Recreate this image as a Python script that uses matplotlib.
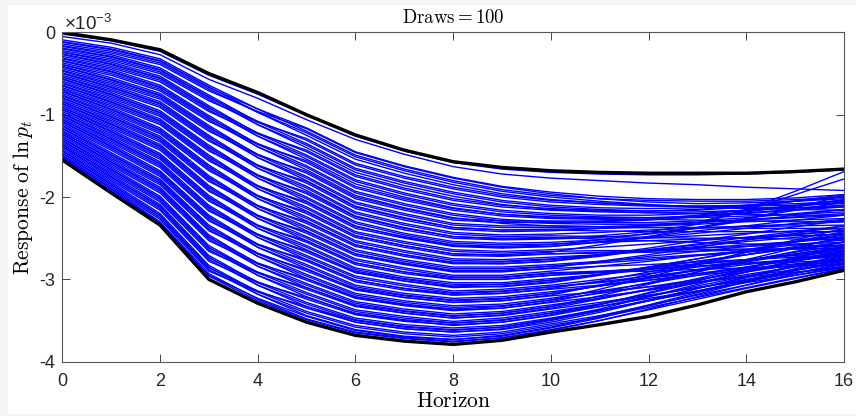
import matplotlib
matplotlib.use("Agg")
import matplotlib.pyplot as plt
from matplotlib.patches import Rectangle

# responses in units of 1e-3
horizon = list(range(17))

upper = [0.00, -0.09, -0.21, -0.50, -0.73, -1.00, -1.245, -1.43, -1.57, -1.64, -1.68,
         -1.70, -1.71, -1.71, -1.71, -1.69, -1.66]
lower = [-1.55, -1.95, -2.34, -3.00, -3.29, -3.52, -3.68, -3.75, -3.79, -3.74, -3.64,
         -3.55, -3.45, -3.31, -3.15, -3.03, -2.89]

draws = [
    [-0.02, -0.10, -0.23, -0.52, -0.75, -1.01, -1.26, -1.44, -1.58, -1.66, -1.70, -1.72, -1.73, -1.73, -1.72, -1.70, -1.67],
    [-0.05, -0.13, -0.27, -0.57, -0.80, -1.06, -1.30, -1.48, -1.63, -1.72, -1.77, -1.80, -1.83, -1.85, -1.88, -1.90, -1.92],
    [-0.09, -0.18, -0.32, -0.64, -0.93, -1.20, -1.49, -1.66, -1.80, -1.91, -1.98, -2.02, -2.04, -2.05, -2.05, -2.03, -2.00],
    [-0.11, -0.20, -0.34, -0.66, -0.97, -1.25, -1.54, -1.71, -1.85, -1.96, -2.03, -2.07, -2.10, -2.11, -2.11, -2.10, -2.08],
    [-0.12, -0.21, -0.35, -0.67, -0.93, -1.16, -1.45, -1.62, -1.76, -1.87, -1.94, -1.99, -2.02, -2.03, -2.03, -2.01, -1.97],
    [-0.14, -0.23, -0.37, -0.69, -0.97, -1.22, -1.51, -1.68, -1.82, -1.93, -2.00, -2.05, -2.09, -2.12, -2.14, -2.15, -2.16],
    [-0.16, -0.25, -0.39, -0.71, -0.96, -1.17, -1.46, -1.63, -1.77, -1.88, -1.96, -2.02, -2.06, -2.08, -2.07, -2.05, -2.02],
    [-0.17, -0.27, -0.43, -0.76, -1.09, -1.35, -1.65, -1.81, -1.94, -2.04, -2.10, -2.13, -2.14, -2.13, -2.10, -2.05, -2.00],
    [-0.19, -0.29, -0.45, -0.78, -1.12, -1.40, -1.70, -1.86, -1.99, -2.09, -2.15, -2.17, -2.19, -2.20, -2.21, -2.22, -2.22],
    [-0.20, -0.30, -0.46, -0.79, -1.08, -1.31, -1.61, -1.77, -1.90, -2.00, -2.06, -2.09, -2.11, -2.11, -2.10, -2.08, -2.05],
    [-0.22, -0.32, -0.48, -0.81, -1.12, -1.37, -1.67, -1.83, -1.96, -2.06, -2.12, -2.15, -2.17, -2.16, -2.12, -2.05, -1.97],
    [-0.24, -0.34, -0.50, -0.83, -1.09, -1.29, -1.59, -1.75, -1.88, -1.98, -2.04, -2.07, -2.10, -2.12, -2.13, -2.13, -2.12],
    [-0.24, -0.36, -0.53, -0.89, -1.23, -1.49, -1.79, -1.95, -2.08, -2.16, -2.20, -2.22, -2.22, -2.20, -2.16, -2.11, -2.06],
    [-0.26, -0.38, -0.55, -0.91, -1.26, -1.54, -1.84, -2.00, -2.13, -2.21, -2.25, -2.26, -2.27, -2.28, -2.29, -2.30, -2.30],
    [-0.27, -0.39, -0.56, -0.92, -1.22, -1.45, -1.75, -1.91, -2.04, -2.12, -2.16, -2.18, -2.19, -2.18, -2.16, -2.13, -2.10],
    [-0.29, -0.41, -0.58, -0.94, -1.26, -1.51, -1.81, -1.97, -2.10, -2.18, -2.22, -2.24, -2.25, -2.25, -2.23, -2.21, -2.18],
    [-0.31, -0.43, -0.60, -0.96, -1.23, -1.43, -1.73, -1.89, -2.02, -2.10, -2.14, -2.16, -2.17, -2.15, -2.10, -2.05, -1.99],
    [-0.32, -0.45, -0.64, -1.01, -1.36, -1.62, -1.93, -2.08, -2.20, -2.27, -2.30, -2.31, -2.31, -2.29, -2.25, -2.20, -2.15],
    [-0.34, -0.47, -0.66, -1.03, -1.39, -1.67, -1.98, -2.13, -2.25, -2.32, -2.35, -2.36, -2.37, -2.37, -2.38, -2.38, -2.38],
    [-0.35, -0.48, -0.67, -1.04, -1.35, -1.58, -1.89, -2.04, -2.16, -2.23, -2.26, -2.27, -2.27, -2.24, -2.18, -2.11, -2.04],
    [-0.37, -0.50, -0.69, -1.06, -1.39, -1.64, -1.95, -2.10, -2.22, -2.29, -2.32, -2.33, -2.33, -2.31, -2.28, -2.25, -2.22],
    [-0.39, -0.52, -0.71, -1.08, -1.36, -1.56, -1.87, -2.02, -2.14, -2.21, -2.24, -2.25, -2.25, -2.23, -2.19, -2.15, -2.10],
    [-0.39, -0.55, -0.74, -1.13, -1.49, -1.75, -2.06, -2.20, -2.32, -2.35, -2.35, -2.36, -2.35, -2.31, -2.15, -1.93, -1.69],
    [-0.41, -0.57, -0.76, -1.15, -1.52, -1.80, -2.11, -2.25, -2.37, -2.40, -2.40, -2.41, -2.42, -2.42, -2.42, -2.42, -2.42],
    [-0.42, -0.58, -0.77, -1.16, -1.48, -1.71, -2.02, -2.16, -2.28, -2.31, -2.31, -2.30, -2.28, -2.24, -2.20, -2.16, -2.12],
    [-0.44, -0.60, -0.79, -1.18, -1.52, -1.77, -2.08, -2.22, -2.34, -2.37, -2.37, -2.36, -2.35, -2.33, -2.30, -2.28, -2.26],
    [-0.46, -0.62, -0.81, -1.20, -1.49, -1.69, -2.00, -2.14, -2.26, -2.29, -2.29, -2.29, -2.27, -2.22, -2.16, -2.10, -2.03],
    [-0.47, -0.64, -0.84, -1.25, -1.62, -1.87, -2.18, -2.32, -2.43, -2.46, -2.45, -2.43, -2.40, -2.38, -2.35, -2.33, -2.30],
    [-0.49, -0.66, -0.86, -1.27, -1.65, -1.92, -2.23, -2.37, -2.48, -2.51, -2.50, -2.47, -2.42, -2.33, -2.16, -1.97, -1.78],
    [-0.50, -0.67, -0.87, -1.28, -1.61, -1.83, -2.14, -2.28, -2.39, -2.42, -2.41, -2.38, -2.34, -2.31, -2.27, -2.24, -2.20],
    [-0.52, -0.69, -0.89, -1.30, -1.65, -1.89, -2.20, -2.34, -2.45, -2.48, -2.47, -2.48, -2.49, -2.50, -2.50, -2.51, -2.52],
    [-0.54, -0.71, -0.91, -1.32, -1.62, -1.81, -2.12, -2.26, -2.37, -2.40, -2.39, -2.38, -2.37, -2.37, -2.36, -2.35, -2.34],
    [-0.54, -0.73, -0.95, -1.37, -1.74, -2.00, -2.30, -2.44, -2.54, -2.56, -2.55, -2.52, -2.50, -2.47, -2.44, -2.41, -2.38],
    [-0.56, -0.75, -0.97, -1.39, -1.77, -2.05, -2.35, -2.49, -2.59, -2.61, -2.60, -2.54, -2.48, -2.41, -2.35, -2.28, -2.22],
    [-0.57, -0.76, -0.98, -1.40, -1.73, -1.96, -2.26, -2.40, -2.50, -2.52, -2.51, -2.49, -2.45, -2.38, -2.27, -2.13, -1.98],
    [-0.59, -0.78, -1.00, -1.42, -1.77, -2.02, -2.32, -2.46, -2.56, -2.58, -2.57, -2.55, -2.53, -2.51, -2.49, -2.47, -2.45],
    [-0.61, -0.80, -1.02, -1.44, -1.74, -1.94, -2.24, -2.38, -2.48, -2.50, -2.49, -2.51, -2.53, -2.55, -2.57, -2.58, -2.60],
    [-0.62, -0.82, -1.05, -1.49, -1.87, -2.12, -2.42, -2.54, -2.64, -2.66, -2.64, -2.61, -2.57, -2.53, -2.49, -2.45, -2.41],
    [-0.64, -0.84, -1.07, -1.51, -1.90, -2.17, -2.47, -2.59, -2.69, -2.71, -2.69, -2.67, -2.65, -2.62, -2.60, -2.57, -2.55],
    [-0.65, -0.85, -1.08, -1.52, -1.86, -2.08, -2.38, -2.50, -2.60, -2.62, -2.60, -2.55, -2.49, -2.44, -2.38, -2.32, -2.27],
    [-0.67, -0.87, -1.10, -1.54, -1.90, -2.14, -2.44, -2.56, -2.66, -2.68, -2.66, -2.65, -2.65, -2.64, -2.63, -2.63, -2.62],
    [-0.69, -0.89, -1.12, -1.56, -1.87, -2.06, -2.36, -2.48, -2.58, -2.60, -2.58, -2.52, -2.44, -2.37, -2.29, -2.22, -2.15],
    [-0.69, -0.91, -1.16, -1.61, -1.99, -2.24, -2.53, -2.65, -2.75, -2.76, -2.73, -2.70, -2.66, -2.62, -2.58, -2.54, -2.50],
    [-0.71, -0.93, -1.18, -1.63, -2.02, -2.29, -2.58, -2.70, -2.80, -2.81, -2.78, -2.72, -2.64, -2.57, -2.49, -2.42, -2.35],
    [-0.72, -0.94, -1.19, -1.64, -1.98, -2.20, -2.49, -2.61, -2.71, -2.72, -2.69, -2.68, -2.67, -2.66, -2.64, -2.63, -2.62],
    [-0.74, -0.96, -1.21, -1.66, -2.02, -2.26, -2.55, -2.67, -2.77, -2.78, -2.75, -2.70, -2.65, -2.60, -2.54, -2.49, -2.44],
    [-0.76, -0.98, -1.23, -1.68, -1.99, -2.18, -2.47, -2.59, -2.69, -2.70, -2.67, -2.58, -2.48, -2.37, -2.26, -2.16, -2.06],
    [-0.77, -1.00, -1.26, -1.74, -2.11, -2.36, -2.64, -2.76, -2.85, -2.85, -2.82, -2.78, -2.74, -2.70, -2.66, -2.62, -2.58],
    [-0.79, -1.02, -1.28, -1.76, -2.14, -2.41, -2.69, -2.81, -2.90, -2.90, -2.87, -2.84, -2.82, -2.79, -2.76, -2.73, -2.70],
    [-0.80, -1.03, -1.29, -1.77, -2.10, -2.32, -2.60, -2.72, -2.81, -2.81, -2.78, -2.70, -2.62, -2.53, -2.45, -2.36, -2.28],
    [-0.82, -1.05, -1.31, -1.79, -2.14, -2.38, -2.66, -2.78, -2.87, -2.87, -2.84, -2.79, -2.72, -2.66, -2.60, -2.54, -2.48],
    [-0.84, -1.07, -1.33, -1.81, -2.11, -2.30, -2.58, -2.70, -2.79, -2.79, -2.76, -2.71, -2.64, -2.58, -2.52, -2.46, -2.40],
    [-0.84, -1.09, -1.36, -1.86, -2.23, -2.48, -2.75, -2.86, -2.95, -2.95, -2.90, -2.84, -2.78, -2.71, -2.65, -2.58, -2.52],
    [-0.86, -1.11, -1.38, -1.88, -2.26, -2.53, -2.80, -2.91, -3.00, -3.00, -2.95, -2.91, -2.86, -2.81, -2.76, -2.71, -2.66],
    [-0.87, -1.12, -1.39, -1.89, -2.22, -2.44, -2.71, -2.82, -2.91, -2.91, -2.86, -2.78, -2.70, -2.61, -2.52, -2.44, -2.35],
    [-0.89, -1.14, -1.41, -1.91, -2.26, -2.50, -2.77, -2.88, -2.97, -2.97, -2.92, -2.90, -2.87, -2.84, -2.81, -2.79, -2.76],
    [-0.91, -1.16, -1.43, -1.93, -2.23, -2.42, -2.69, -2.80, -2.89, -2.89, -2.84, -2.80, -2.76, -2.71, -2.67, -2.62, -2.58],
    [-0.91, -1.18, -1.47, -1.98, -2.35, -2.59, -2.86, -2.97, -3.04, -3.04, -2.99, -2.94, -2.88, -2.82, -2.76, -2.70, -2.64],
    [-0.93, -1.20, -1.49, -2.00, -2.38, -2.64, -2.91, -3.02, -3.09, -3.09, -3.04, -2.95, -2.85, -2.75, -2.64, -2.54, -2.45],
    [-0.94, -1.21, -1.50, -2.01, -2.34, -2.55, -2.82, -2.93, -3.00, -3.00, -2.95, -2.92, -2.88, -2.84, -2.80, -2.76, -2.72],
    [-0.96, -1.23, -1.52, -2.03, -2.38, -2.61, -2.88, -2.99, -3.06, -3.06, -3.01, -2.94, -2.86, -2.78, -2.70, -2.62, -2.55],
    [-0.98, -1.25, -1.54, -2.05, -2.35, -2.53, -2.80, -2.91, -2.98, -2.98, -2.93, -2.91, -2.90, -2.88, -2.86, -2.84, -2.82],
    [-0.99, -1.27, -1.57, -2.10, -2.46, -2.71, -2.96, -3.06, -3.14, -3.12, -3.07, -3.00, -2.93, -2.85, -2.77, -2.69, -2.62],
    [-1.01, -1.29, -1.59, -2.12, -2.49, -2.76, -3.01, -3.11, -3.19, -3.17, -3.12, -3.07, -3.01, -2.95, -2.89, -2.83, -2.78],
    [-1.02, -1.30, -1.60, -2.13, -2.45, -2.67, -2.92, -3.02, -3.10, -3.08, -3.03, -2.94, -2.85, -2.75, -2.65, -2.55, -2.46],
    [-1.04, -1.32, -1.62, -2.15, -2.49, -2.73, -2.98, -3.08, -3.16, -3.14, -3.09, -3.03, -2.96, -2.89, -2.82, -2.75, -2.68],
    [-1.06, -1.34, -1.64, -2.17, -2.46, -2.65, -2.90, -3.00, -3.08, -3.06, -3.01, -2.94, -2.86, -2.78, -2.70, -2.62, -2.55],
    [-1.06, -1.36, -1.68, -2.22, -2.58, -2.82, -3.07, -3.17, -3.23, -3.21, -3.15, -3.08, -3.01, -2.93, -2.85, -2.77, -2.70],
    [-1.08, -1.38, -1.70, -2.24, -2.61, -2.87, -3.12, -3.22, -3.28, -3.26, -3.20, -3.15, -3.09, -3.03, -2.97, -2.91, -2.86],
    [-1.09, -1.39, -1.71, -2.25, -2.57, -2.78, -3.03, -3.13, -3.19, -3.17, -3.11, -3.02, -2.91, -2.81, -2.70, -2.60, -2.50],
    [-1.11, -1.41, -1.73, -2.27, -2.61, -2.84, -3.09, -3.19, -3.25, -3.23, -3.17, -3.08, -2.99, -2.89, -2.79, -2.69, -2.60],
    [-1.13, -1.43, -1.75, -2.29, -2.58, -2.76, -3.01, -3.11, -3.17, -3.15, -3.09, -3.04, -2.98, -2.93, -2.87, -2.81, -2.76],
    [-1.14, -1.46, -1.78, -2.34, -2.69, -2.94, -3.17, -3.26, -3.32, -3.30, -3.23, -3.14, -3.05, -2.95, -2.85, -2.75, -2.66],
    [-1.16, -1.48, -1.80, -2.36, -2.72, -2.99, -3.22, -3.31, -3.37, -3.35, -3.28, -3.21, -3.13, -3.04, -2.96, -2.88, -2.80],
    [-1.17, -1.49, -1.81, -2.37, -2.68, -2.90, -3.13, -3.22, -3.28, -3.26, -3.19, -3.07, -2.94, -2.81, -2.67, -2.54, -2.42],
    [-1.19, -1.51, -1.83, -2.39, -2.72, -2.96, -3.19, -3.28, -3.34, -3.32, -3.25, -3.17, -3.09, -3.00, -2.91, -2.82, -2.74],
    [-1.21, -1.53, -1.85, -2.41, -2.69, -2.88, -3.11, -3.20, -3.26, -3.24, -3.17, -3.08, -2.98, -2.88, -2.77, -2.67, -2.58],
    [-1.21, -1.55, -1.88, -2.46, -2.81, -3.05, -3.27, -3.36, -3.42, -3.39, -3.31, -3.23, -3.13, -3.04, -2.94, -2.85, -2.76],
    [-1.23, -1.57, -1.90, -2.48, -2.84, -3.10, -3.32, -3.41, -3.47, -3.44, -3.36, -3.28, -3.19, -3.10, -3.01, -2.92, -2.84],
    [-1.24, -1.58, -1.91, -2.49, -2.80, -3.01, -3.23, -3.32, -3.38, -3.35, -3.27, -3.16, -3.04, -2.91, -2.78, -2.66, -2.54],
    [-1.26, -1.60, -1.93, -2.51, -2.84, -3.07, -3.29, -3.38, -3.44, -3.41, -3.33, -3.23, -3.12, -3.01, -2.89, -2.78, -2.68],
    [-1.28, -1.62, -1.95, -2.53, -2.81, -2.99, -3.21, -3.30, -3.36, -3.33, -3.25, -3.12, -2.97, -2.82, -2.67, -2.52, -2.38],
    [-1.29, -1.64, -1.99, -2.59, -2.92, -3.16, -3.37, -3.45, -3.51, -3.47, -3.39, -3.30, -3.20, -3.10, -3.00, -2.89, -2.80],
    [-1.31, -1.66, -2.01, -2.61, -2.95, -3.21, -3.42, -3.50, -3.56, -3.52, -3.44, -3.33, -3.21, -3.08, -2.96, -2.84, -2.72],
    [-1.32, -1.67, -2.02, -2.62, -2.91, -3.12, -3.33, -3.41, -3.47, -3.43, -3.35, -3.24, -3.12, -2.99, -2.86, -2.74, -2.62],
    [-1.34, -1.69, -2.04, -2.64, -2.95, -3.18, -3.39, -3.47, -3.53, -3.49, -3.41, -3.33, -3.23, -3.14, -3.04, -2.95, -2.86],
    [-1.36, -1.71, -2.06, -2.66, -2.92, -3.10, -3.31, -3.39, -3.45, -3.41, -3.33, -3.20, -3.06, -2.91, -2.76, -2.62, -2.48],
    [-1.36, -1.73, -2.09, -2.71, -3.04, -3.28, -3.47, -3.55, -3.59, -3.56, -3.47, -3.37, -3.26, -3.15, -3.03, -2.92, -2.82],
    [-1.38, -1.75, -2.11, -2.73, -3.07, -3.33, -3.52, -3.60, -3.64, -3.61, -3.52, -3.40, -3.26, -3.11, -2.97, -2.83, -2.70],
    [-1.39, -1.76, -2.12, -2.74, -3.03, -3.24, -3.43, -3.51, -3.55, -3.52, -3.43, -3.31, -3.16, -3.02, -2.87, -2.73, -2.60],
    [-1.41, -1.78, -2.14, -2.76, -3.07, -3.30, -3.49, -3.57, -3.61, -3.58, -3.49, -3.38, -3.26, -3.14, -3.01, -2.89, -2.78],
    [-1.43, -1.80, -2.16, -2.78, -3.04, -3.22, -3.41, -3.49, -3.53, -3.50, -3.41, -3.30, -3.17, -3.04, -2.91, -2.78, -2.66],
    [-1.44, -1.82, -2.20, -2.83, -3.15, -3.39, -3.56, -3.64, -3.68, -3.64, -3.54, -3.44, -3.32, -3.19, -3.07, -2.95, -2.84],
    [-1.46, -1.84, -2.22, -2.85, -3.18, -3.44, -3.61, -3.69, -3.73, -3.69, -3.59, -3.47, -3.32, -3.18, -3.03, -2.89, -2.76],
    [-1.47, -1.85, -2.23, -2.86, -3.14, -3.35, -3.52, -3.60, -3.64, -3.60, -3.50, -3.38, -3.25, -3.11, -2.98, -2.84, -2.72],
    [-1.49, -1.87, -2.25, -2.88, -3.18, -3.41, -3.58, -3.66, -3.70, -3.66, -3.56, -3.46, -3.34, -3.22, -3.10, -2.98, -2.87],
    [-1.51, -1.89, -2.27, -2.90, -3.15, -3.33, -3.50, -3.58, -3.62, -3.58, -3.48, -3.36, -3.21, -3.06, -2.91, -2.77, -2.64],
    [-1.53, -1.93, -2.32, -2.96, -3.26, -3.49, -3.65, -3.72, -3.76, -3.71, -3.61, -3.50, -3.37, -3.24, -3.11, -2.99, -2.87],
    [-1.50, -1.90, -2.30, -2.93, -3.24, -3.48, -3.64, -3.71, -3.75, -3.71, -3.62, -3.50, -3.36, -3.21, -3.07, -2.93, -2.80],
    [-1.52, -1.92, -2.31, -2.95, -3.23, -3.45, -3.62, -3.70, -3.73, -3.68, -3.58, -3.45, -3.31, -3.16, -3.02, -2.87, -2.74],
]

xticks = [0, 2, 4, 6, 8, 10, 12, 14, 16]
yticks = [-4, -3, -2, -1, 0]

plt.rcParams['axes.unicode_minus'] = False
plt.rcParams['font.family'] = 'Liberation Sans'
plt.rcParams['mathtext.fontset'] = 'custom'
plt.rcParams['mathtext.rm'] = 'Liberation Sans'
plt.rcParams['mathtext.it'] = 'Liberation Sans:italic'

fig = plt.figure(figsize=(8.56, 4.16), dpi=100)
fig.patch.set_facecolor('#f5f5f5')
fig.add_artist(Rectangle((8 / 856, 2 / 416), 848 / 856, 409 / 416, transform=fig.transFigure,
                         facecolor='white', edgecolor='none', zorder=-5))

ax = fig.add_axes([0.0728, 0.1305, 0.9132, 0.7915])
for d in draws:
    ax.plot(horizon, d, color='#0000ff', lw=1.0)
ax.plot(horizon, upper, color='black', lw=2.4)
ax.plot(horizon, lower, color='black', lw=2.4)

ax.set_xlim(0, 16)
ax.set_ylim(-4, 0)
ax.set_xticks(xticks)
ax.set_yticks(yticks)
ax.set_xticklabels([str(t) for t in xticks])
ax.set_yticklabels([str(t) for t in yticks])
ax.tick_params(direction='in', length=5.6, width=0.6, top=True, right=True,
               labelsize=13, colors='#262626')
ax.tick_params(axis='x', pad=8)
ax.tick_params(axis='y', pad=5)
for s in ax.spines.values():
    s.set_color('#555555')
    s.set_linewidth(0.8)

ax.set_title(r'$\mathrm{Draws} = 100$', fontsize=13.5, pad=7, math_fontfamily='cm')
ax.set_xlabel(r'$\mathrm{Horizon}$', fontsize=15.5, labelpad=1, math_fontfamily='cm')
ax.set_ylabel(r'$\mathrm{Response\ of\ }\ln p_t$', fontsize=15.5, labelpad=3, math_fontfamily='cm')
ax.text(0.002, 1.008, r'$\times 10^{-3}$', transform=ax.transAxes, fontsize=13.5,
        ha='left', va='baseline', color='#262626')

fig.savefig('out.png', dpi=100, facecolor=fig.get_facecolor())
